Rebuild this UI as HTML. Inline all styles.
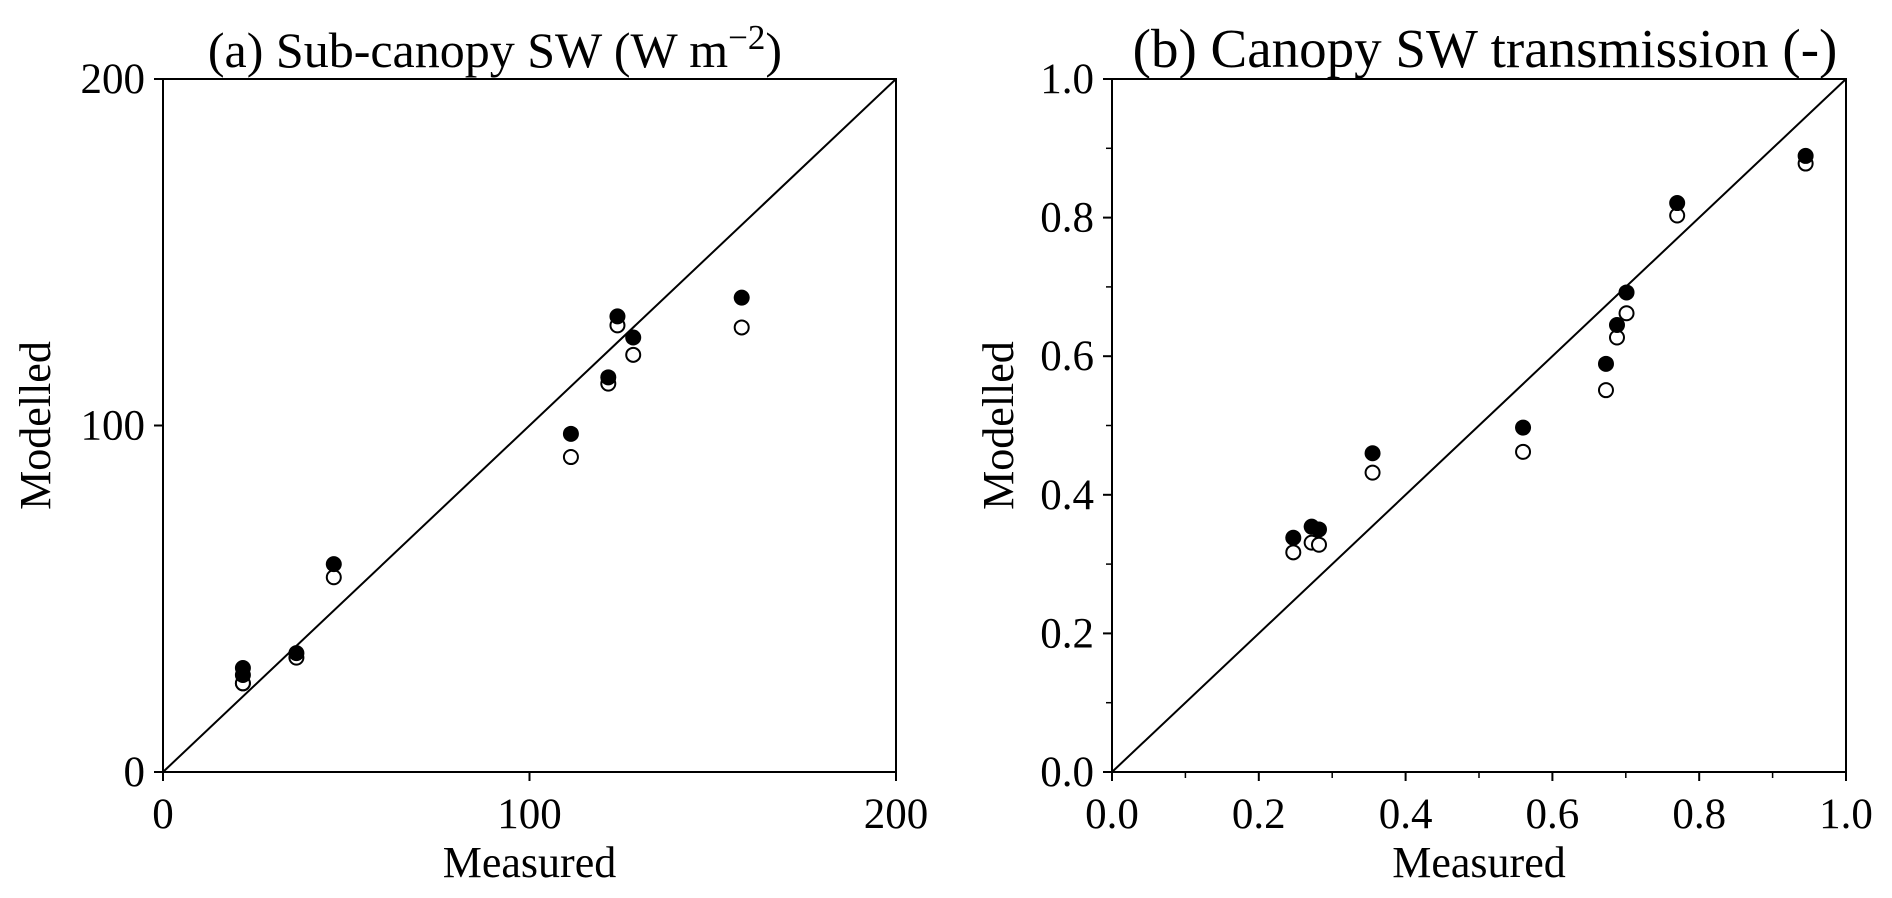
<!DOCTYPE html>
<html><head><meta charset="utf-8"><style>
html,body{margin:0;padding:0;background:#fff;}
svg{display:block;font-family:"Liberation Serif",serif;}
</style></head><body>
<svg id="chart" width="1892" height="898" viewBox="0 0 1892 898"></svg>
<script>
const aMeasured=[21.8,21.8,36.4,46.6,111.3,121.5,124,128.3,157.9];
const aModelFilled=[30,28,34.3,60,97.6,113.9,131.5,125.4,136.9];
const aModelOpen=[25.6,25.6,33,56.2,90.9,112.1,128.9,120.4,128.3];
const aTicks=[0,100,200];
const bMeasured=[0.247,0.272,0.282,0.355,0.56,0.673,0.688,0.701,0.77,0.945];
const bModelFilled=[0.338,0.354,0.350,0.460,0.497,0.589,0.645,0.692,0.821,0.889];
const bModelOpen=[0.317,0.331,0.328,0.432,0.462,0.551,0.627,0.662,0.803,0.878];
const bTicks=[0,0.2,0.4,0.6,0.8,1.0];
const bMinor=[0.1,0.3,0.5,0.7,0.9];

const NS="http://www.w3.org/2000/svg";
const svg=document.getElementById('chart');
function el(tag,attrs,parent){const e=document.createElementNS(NS,tag);for(const k in attrs)e.setAttribute(k,attrs[k]);(parent||svg).appendChild(e);return e;}

function panel(cfg){
  const g=el('g',{});
  
  
  const L=cfg.x0,R=cfg.x1,T=79,B=772;
  const sx=v=>L+(v-cfg.min)/(cfg.max-cfg.min)*(R-L);
  const sy=v=>B-(v-cfg.min)/(cfg.max-cfg.min)*(B-T);
  const frame=el('rect',{x:L,y:T,width:R-L,height:B-T,fill:'none',stroke:'#000','stroke-width':2},g);
  
  
  const one=el('line',{x1:sx(cfg.min),y1:sy(cfg.min),x2:sx(cfg.max),y2:sy(cfg.max),stroke:'#000','stroke-width':2},g);
  
  
  cfg.ticks.forEach(t=>{
    const tx=el('line',{x1:sx(t),y1:B,x2:sx(t),y2:B+9,stroke:'#000','stroke-width':2},g);
    
    
    const ty=el('line',{x1:L,y1:sy(t),x2:L-9,y2:sy(t),stroke:'#000','stroke-width':2},g);
    
    
    const lx=el('text',{x:sx(t),y:B+56,'font-size':43,'text-anchor':'middle'},g);
    lx.textContent=cfg.fmt(t);
    
    
    const ly=el('text',{x:L-18,y:sy(t)+14,'font-size':43,'text-anchor':'end'},g);
    ly.textContent=cfg.fmt(t);
    
    
  });
  (cfg.minor||[]).forEach(t=>{
    const tx=el('line',{x1:sx(t),y1:B,x2:sx(t),y2:B+6,stroke:'#000','stroke-width':1.5},g);
    
    
    const ty=el('line',{x1:L,y1:sy(t),x2:L-6,y2:sy(t),stroke:'#000','stroke-width':1.5},g);
    
    
  });
  cfg.meas.forEach((m,i)=>{
    const o=el('circle',{cx:sx(m),cy:sy(cfg.open[i]),r:7,fill:'#fff',stroke:'#000','stroke-width':2},g);
    
    
  });
  cfg.meas.forEach((m,i)=>{
    const f=el('circle',{cx:sx(m),cy:sy(cfg.filled[i]),r:8,fill:'#000'},g);
    
    
  });
  const xt=el('text',{x:(L+R)/2,y:B+105,'font-size':44,'text-anchor':'middle'},g);
  xt.textContent='Measured';
  
  
  const cy=(T+B)/2;
  const yt=el('text',{x:cfg.ylx,y:cy,'font-size':44,'text-anchor':'middle',transform:`rotate(-90 ${cfg.ylx} ${cy})`},g);
  yt.textContent='Modelled';
  
  
  const tt=el('text',{x:cfg.tx,y:67,'font-size':cfg.tfs,'text-anchor':'middle'},g);
  tt.innerHTML=cfg.title;
  
  
}
panel({name:'panel-a',x0:163,x1:896,min:0,max:200,ticks:aTicks,fmt:v=>String(v),meas:aMeasured,filled:aModelFilled,open:aModelOpen,ylx:50,tx:495,tfs:50,
  title:'(a) Sub-canopy SW (W m<tspan dy="-18" font-size="35">−2</tspan><tspan dy="18">)</tspan>'});
panel({name:'panel-b',x0:1112,x1:1846,min:0,max:1,ticks:bTicks,minor:bMinor,fmt:v=>v.toFixed(1),meas:bMeasured,filled:bModelFilled,open:bModelOpen,ylx:1013,tx:1485,tfs:55,
  title:'(b) Canopy SW transmission (-)'});
</script>
</body></html>
